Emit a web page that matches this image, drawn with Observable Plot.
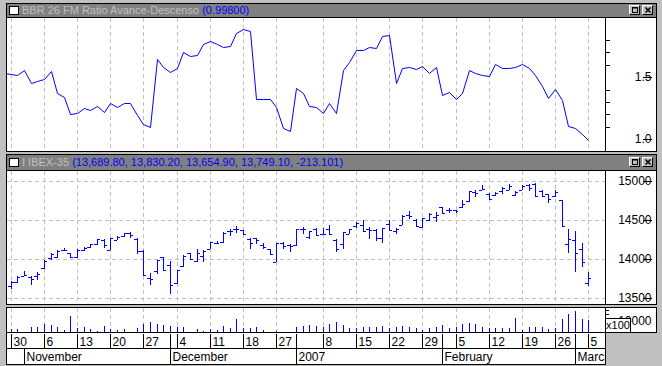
<!DOCTYPE html>
<html><head><meta charset="utf-8">
<script src="https://cdn.jsdelivr.net/npm/d3@7"></script>
<script src="https://cdn.jsdelivr.net/npm/@observablehq/plot@0.6"></script>
<style>
html,body{margin:0;padding:0;background:#c0c0c0;}
#root{position:relative;width:662px;height:366px;background:#c0c0c0;overflow:hidden;font-family:"Liberation Sans",Arial,sans-serif;}
.box{position:absolute;box-sizing:border-box;border:1px solid #000;background:#fff;}
.tbar{position:absolute;left:0;right:0;top:0;background:#808080;border-bottom:1px solid #000;font-size:11px;color:#c0c0c0;white-space:nowrap;overflow:hidden;}
.icon{position:absolute;left:2px;width:10px;height:9px;box-sizing:border-box;background:#fff;border:1px solid #000;}
.ttl{position:absolute;left:15px;top:0;}
.val{color:#0000ff;}
.btn{position:absolute;width:11px;height:10px;box-sizing:border-box;background:#c0c0c0;border-top:1px solid #fff;border-left:1px solid #fff;border-right:1px solid #000;border-bottom:1px solid #000;}
.btn svg{position:absolute;left:1px;top:0px;}
.plot{position:absolute;}
.x100{position:absolute;left:605px;top:318px;width:26px;height:15px;box-sizing:border-box;border:1px solid #000;background:#fff;font-size:11px;line-height:13px;text-align:center;color:#000;z-index:5;}
</style></head>
<body>
<div id="root">
  <div class="box" style="left:6px;top:3px;width:651px;height:149px;">
    <div class="tbar" style="height:13px;line-height:13px;">
      <div class="icon" style="top:2px;"></div>
      <span class="ttl" id="t1"></span>
      <div class="btn" style="left:622px;top:1px;"><svg width="8" height="8"><rect x="1.5" y="1.5" width="5" height="5" fill="none" stroke="#000"/><line x1="1" x2="7" y1="2" y2="2" stroke="#000"/></svg></div>
      <div class="btn" style="left:635px;top:1px;"><svg width="8" height="8"><path d="M1.5,1.5L6.5,6.5M6.5,1.5L1.5,6.5" stroke="#000" stroke-width="1.5"/></svg></div>
    </div>
  </div>
  <div class="box" style="left:6px;top:154px;width:651px;height:151px;">
    <div class="tbar" style="height:15px;line-height:15px;">
      <div class="icon" style="top:3px;"></div>
      <span class="ttl" id="t2"></span>
      <div class="btn" style="left:622px;top:2px;"><svg width="8" height="8"><rect x="1.5" y="1.5" width="5" height="5" fill="none" stroke="#000"/><line x1="1" x2="7" y1="2" y2="2" stroke="#000"/></svg></div>
      <div class="btn" style="left:635px;top:2px;"><svg width="8" height="8"><path d="M1.5,1.5L6.5,6.5M6.5,1.5L1.5,6.5" stroke="#000" stroke-width="1.5"/></svg></div>
    </div>
  </div>
  <div class="box" style="left:6px;top:307px;width:651px;height:26px;"></div>
  <div class="box" style="left:6px;top:332px;width:600px;height:33px;">
    <div style="position:absolute;left:0;right:0;top:15px;border-top:1px solid #000;"></div>
  </div>
  <div class="plot" id="p1" style="left:7px;top:18px;"></div>
  <div class="plot" id="p2" style="left:7px;top:171px;"></div>
  <div class="plot" id="p3" style="left:7px;top:308px;"></div>
  <div class="plot" id="p4" style="left:7px;top:333px;"></div>
  <div class="x100">x100</div>
</div>
<script>
// ---------- DATA ----------
const dates = [
"2006-10-27","2006-10-30","2006-10-31",
"2006-11-01","2006-11-02","2006-11-03","2006-11-06","2006-11-07","2006-11-08","2006-11-09","2006-11-10",
"2006-11-13","2006-11-14","2006-11-15","2006-11-16","2006-11-17","2006-11-20","2006-11-21","2006-11-22","2006-11-23","2006-11-24",
"2006-11-27","2006-11-28","2006-11-29","2006-11-30",
"2006-12-01","2006-12-04","2006-12-05","2006-12-06","2006-12-07","2006-12-08","2006-12-11","2006-12-12","2006-12-13","2006-12-14","2006-12-15",
"2006-12-18","2006-12-19","2006-12-20","2006-12-21","2006-12-22","2006-12-27","2006-12-28","2006-12-29",
"2007-01-02","2007-01-03","2007-01-04","2007-01-05","2007-01-08","2007-01-09","2007-01-10","2007-01-11","2007-01-12",
"2007-01-15","2007-01-16","2007-01-17","2007-01-18","2007-01-19","2007-01-22","2007-01-23","2007-01-24","2007-01-25","2007-01-26",
"2007-01-29","2007-01-30","2007-01-31",
"2007-02-01","2007-02-02","2007-02-05","2007-02-06","2007-02-07","2007-02-08","2007-02-09","2007-02-12","2007-02-13","2007-02-14","2007-02-15","2007-02-16",
"2007-02-19","2007-02-20","2007-02-21","2007-02-22","2007-02-23","2007-02-26","2007-02-27","2007-02-28",
"2007-03-01","2007-03-02","2007-03-05"];

// BBR 26 FM Ratio Avance-Descenso (one value per date, from 2006-10-27)
const ratio = [1.535,
1.527,1.516,1.556,1.45,1.47,1.49,1.548,1.376,1.344,1.20,
1.21,1.25,1.237,1.27,1.218,1.29,1.263,1.29,1.296,1.196,
1.12,1.10,1.648,1.586,1.546,1.573,1.70,1.675,1.68,1.766,
1.796,1.769,1.745,1.755,1.855,1.887,1.874,1.328,1.328,1.325,
1.263,1.094,1.067,1.41,1.37,1.27,1.258,1.215,1.296,1.21,
1.56,1.626,1.72,1.72,1.747,1.734,1.833,1.841,1.457,1.573,
1.58,1.565,1.594,1.538,1.586,1.358,1.379,1.325,1.376,1.559,
1.532,1.516,1.51,1.605,1.573,1.573,1.58,1.605,1.573,1.519,
1.43,1.33,1.403,1.317,1.108,1.094,1.04,0.998];

// IBEX-35 OHLC (from 2006-10-30)
const open = [13647,13700,13783,13760,13783,13877,14009,14021,14115,14072,
14017,14115,14157,14187,14234,14115,14242,14294,14328,14250,
14100,13753,13847,14017,13920,13685,13906,14068,13970,14038,
14119,14200,14209,14353,14387,14366,14251,14260,14175,14119,
13962,14196,14175,14170,14383,14280,14387,14315,14375,14238,
14187,14315,14415,14430,14375,14370,14260,14440,14357,14430,
14566,14493,14408,14502,14540,14660,14625,14620,14664,14740,
14855,14885,14834,14813,14865,14885,14815,14885,14940,14953,
14868,14826,14800,14749,14187,14238,14123,13689.8];
const high = [13719,13783,13838,13783,13826,13979,14072,14106,14132,14072,
14123,14145,14191,14255,14251,14268,14294,14336,14349,14260,
14115,13817,13983,14026,13975,13855,14043,14077,14124,14110,
14213,14226,14340,14379,14421,14370,14260,14272,14204,14119,
14196,14209,14183,14387,14409,14360,14390,14390,14430,14247,
14340,14379,14472,14494,14409,14387,14400,14500,14400,14557,
14617,14510,14523,14587,14595,14665,14650,14630,14750,14868,
14885,14940,14842,14855,14920,14953,14868,14940,14953,14970,
14885,14834,14885,14749,14375,14353,14204,13830.2];
const low = [13617,13689,13774,13668,13732,13868,13987,14004,14094,14009,
14009,14094,14136,14178,14136,14115,14234,14277,14264,14060,
13787,13668,13805,13847,13549,13677,13898,13992,13962,13962,
14119,14187,14204,14294,14336,14323,14128,14187,14119,14043,
13953,14119,14089,14162,14323,14250,14302,14310,14302,14085,
14119,14315,14400,14340,14247,14230,14196,14370,14323,14430,
14510,14408,14396,14480,14468,14580,14580,14580,14655,14723,
14790,14885,14749,14800,14834,14877,14800,14880,14868,14792,
14800,14719,14792,14409,14077,13834,13889,13654.9];
const close = [13706,13770,13787,13740,13800,13970,14064,14094,14115,14017,
14115,14132,14183,14251,14178,14260,14277,14328,14306,14095,
13796,13745,13979,13855,13664,13855,14034,14000,14077,14102,
14209,14205,14336,14353,14387,14323,14200,14238,14153,14060,
14196,14162,14162,14387,14379,14355,14305,14320,14323,14119,
14340,14379,14460,14357,14370,14268,14400,14370,14375,14549,
14545,14416,14523,14574,14560,14585,14620,14615,14706,14864,
14842,14889,14770,14842,14910,14936,14860,14930,14900,14800,
14810,14770,14855,14417,14247,14068,13962.2,13749.1];
// Volume (x100), from 2006-10-30
const volume = [2750,2750,300,4890,4890,7340,6420,4890,1830,14670,
3970,4890,2450,920,5500,2750,1830,2750,300,3970,
7340,9170,7340,6420,5500,4890,4890,400,2750,920,
2750,1830,5810,3970,11920,3970,3970,4890,1830,300,
920,200,200,4890,5810,6420,5810,4890,7340,9470,
6420,3360,3360,4890,4890,4890,5810,3360,4890,5500,
4890,3360,1830,3360,4890,6420,3360,4890,7340,8250,
7340,4890,3360,3360,3360,3360,13140,1830,4890,4890,
4280,2750,3360,11920,16510,19260,11920,11000];

const weekDates = ["2006-10-30","2006-11-06","2006-11-13","2006-11-20","2006-11-27","2006-12-04","2006-12-11","2006-12-18","2006-12-27",
"2007-01-08","2007-01-15","2007-01-22","2007-01-29","2007-02-05","2007-02-12","2007-02-19","2007-02-26","2007-03-05"];
const weekLabels = ["30","6","13","20","27","4","11","18","27","8","15","22","29","5","12","19","26","5"];
const monthDates = ["2006-11-01","2006-12-01","2007-01-02","2007-02-01","2007-03-01"];
const monthLabels = ["November","December","2007","February","March"];
const ratioTicks = [1.0, 1.5];
const ratioMinor = [1.1, 1.2, 1.3, 1.4, 1.6, 1.7, 1.8];
const ibexTicks = [13500, 14000, 14500, 15000];
const volMinor = [4000, 8000, 12000, 16000, 20000];
const volTicks = [10000];
const title1 = "BBR 26 FM Ratio Avance-Descenso";
const title2 = "I IBEX-35";
const title2Values = "(13,689.80, 13,830.20, 13,654.90, 13,749.10, -213.101)";

// ---------- BUILD ----------
const BLUE = "#0000ff", GRID = "#c0c0c0", FONT = "'Liberation Sans', Arial, sans-serif";
const idx = d => dates.indexOf(d);
const off = idx("2006-10-30");
const ratioData = ratio.map((v, i) => ({i, v}));
const ohlc = open.map((o, j) => ({i: j + off, o, h: high[j], l: low[j], c: close[j]}));
const volData = volume.map((v, j) => ({i: j + off, v}));
const weekData = weekDates.map((d, j) => ({i: idx(d), label: weekLabels[j]}));
const weekIdx = weekData.map(d => d.i);
const monthData = monthDates.map((d, j) => ({i: idx(d), label: monthLabels[j]}));

document.getElementById("t1").innerHTML = title1 + ' <span class="val">(' + ratio[ratio.length - 1].toFixed(5) + ')</span>';
document.getElementById("t2").innerHTML = title2 + ' <span class="val">' + title2Values + '</span>';

const xDomain = [0.4427, 90.517];
const xs = {type: "linear", domain: xDomain, round: true, axis: null};
const common = {width: 649, marginTop: 0, marginBottom: 0, marginLeft: 0, marginRight: 51,
  style: {fontFamily: FONT, fontSize: "12px", background: "transparent", color: "#000", overflow: "visible"}};
const dash = {stroke: GRID, strokeDasharray: "4,3"};

const p1 = Plot.plot({...common, height: 133,
  x: xs, y: {domain: [0.9056, 1.978], round: true, label: null},
  marks: [
    Plot.ruleX(weekIdx, dash),
    Plot.line(ratioData, {x: "i", y: "v", stroke: BLUE, strokeWidth: 1, clip: true}),
    Plot.ruleX([xDomain[1]], {stroke: "#000"}),
    Plot.axisY({anchor: "right", ticks: ratioMinor, tickSize: 4, tickFormat: () => "", label: null}),
    Plot.axisY({anchor: "right", ticks: ratioTicks, tickSize: 9, tickPadding: 0, tickFormat: d3.format(".1f"), textAnchor: "end", dx: 37, label: null})
  ]});
document.getElementById("p1").append(p1);

const p2 = Plot.plot({...common, height: 133,
  x: xs, y: {domain: [13420.6, 15124], round: true, label: null},
  marks: [
    Plot.ruleY(ibexTicks, dash),
    Plot.ruleX(weekIdx, dash),
    Plot.ruleX(ohlc, {x: "i", y1: "l", y2: "h", stroke: BLUE}),
    Plot.ruleY(ohlc, {y: "o", x1: d => d.i - 0.45, x2: "i", stroke: BLUE}),
    Plot.ruleY(ohlc, {y: "c", x1: "i", x2: d => d.i + 0.45, stroke: BLUE}),
    Plot.ruleX([xDomain[1]], {stroke: "#000"}),
    Plot.axisY({anchor: "right", ticks: ibexTicks, tickSize: 9, tickPadding: 0, tickFormat: d => String(d), textAnchor: "end", dx: 37, label: null})
  ]});
document.getElementById("p2").append(p2);

const p3 = Plot.plot({...common, height: 24,
  x: xs, y: {domain: [0, 21818], round: true, label: null},
  marks: [
    Plot.ruleX(weekIdx, dash),
    Plot.ruleX(volData, {x: "i", y1: 0, y2: "v", stroke: BLUE}),
    Plot.ruleX([xDomain[1]], {stroke: "#000"}),
    Plot.axisY({anchor: "right", ticks: volMinor, tickSize: 3, tickFormat: () => "", label: null}),
    Plot.axisY({anchor: "right", ticks: volTicks, tickSize: 0, tickPadding: 0, tickFormat: d => String(d), textAnchor: "end", dx: 46, label: null})
  ]});
document.getElementById("p3").append(p3);

const p4 = Plot.plot({...common, height: 31,
  x: xs, y: {type: "band", domain: ["day", "month"], padding: 0, axis: null},
  marks: [
    Plot.tickX(weekData, {x: "i", y: () => "day", stroke: "#000"}),
    Plot.tickX(monthData, {x: "i", y: () => "month", stroke: "#000"}),
    Plot.tickX(monthData.slice(1), {x: "i", y: () => "day", stroke: "#000"}),
    Plot.text(weekData, {x: "i", y: () => "day", text: "label", textAnchor: "start", dx: 2, clip: true}),
    Plot.text(monthData, {x: "i", y: () => "month", text: "label", textAnchor: "start", dx: 2, clip: true})
  ]});
document.getElementById("p4").append(p4);
</script>
</body></html>
